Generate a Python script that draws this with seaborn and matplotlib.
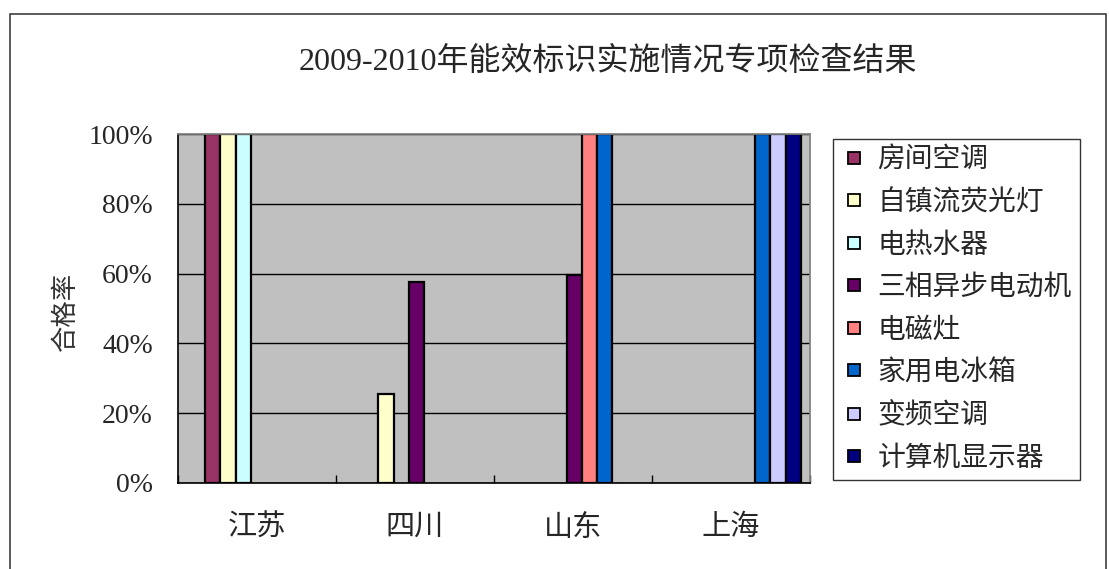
import numpy as np
import pandas as pd
import matplotlib
matplotlib.use("Agg")
import matplotlib.pyplot as plt
import seaborn as sns
from matplotlib.lines import Line2D
from matplotlib.patches import Rectangle
from matplotlib.ticker import FixedLocator

# data (pass rate, %)
regions = ["江苏", "四川", "山东", "上海"]
products = ["房间空调", "自镇流荧光灯", "电热水器", "三相异步电动机",
            "电磁灶", "家用电冰箱", "变频空调", "计算机显示器"]
room_ac = [100, np.nan, np.nan, np.nan]
cfl_lamp = [100, 25.5, np.nan, np.nan]
water_heater = [100, np.nan, np.nan, np.nan]
motor = [np.nan, 57.6, 59.6, np.nan]
induction_cooker = [np.nan, np.nan, 100, np.nan]
fridge = [np.nan, np.nan, 100, 100]
inverter_ac = [np.nan, np.nan, np.nan, 100]
monitor = [np.nan, np.nan, np.nan, 100]
colors = ["#993366", "#FFFFCC", "#CCFFFF", "#660066",
          "#FF8080", "#0066CC", "#CCCCFF", "#000080"]

series = [room_ac, cfl_lamp, water_heater, motor,
          induction_cooker, fridge, inverter_ac, monitor]
df = pd.DataFrame({
    "region": regions * len(products),
    "product": np.repeat(products, len(regions)),
    "rate": np.concatenate(series),
})

sns.set_theme(style="white")
plt.rcParams["font.family"] = ["Liberation Serif", "Noto Sans CJK SC"]

fig = plt.figure(figsize=(11.09, 5.69), dpi=100)
ax = fig.add_axes([178 / 1109, 1 - 483 / 569, 632 / 1109, 349 / 569])
ax.set_facecolor("#C0C0C0")

sns.barplot(data=df, x="region", y="rate", hue="product", order=regions,
            hue_order=products, palette=colors, width=0.77, dodge=True,
            edgecolor="black", linewidth=1.6, saturation=1, legend=False, ax=ax)

# the bar group sits a bit right of the category centre in the original
shift = 0.057
ax.set_xlim(-0.5 - shift, len(regions) - 0.5 - shift)
ax.set_ylim(0, 100)
ax.set_xticks(np.arange(len(regions)) - shift)
ax.set_xticklabels(regions, fontsize=21)
ax.xaxis.set_minor_locator(FixedLocator(np.arange(len(regions) + 1) - 0.5 - shift))
ax.tick_params(axis="x", which="major", length=0, pad=23)
ax.tick_params(axis="x", which="minor", direction="in", length=6, width=1, color="black", bottom=True)
ax.set_yticks(np.arange(0, 101, 20))
ax.set_yticklabels([f"{v}%" for v in range(0, 101, 20)], fontsize=20)
ax.tick_params(axis="y", length=0, pad=18)
ax.yaxis.grid(True, color="black", linewidth=1)
ax.set_axisbelow(True)
ax.set_xlabel("")
ax.set_ylabel("合格率", fontsize=19, color="#333333")
ax.yaxis.set_label_coords(-0.158, 0.493)
for side in ["top", "right"]:
    ax.spines[side].set_color("#808080")
for side in ["left", "bottom"]:
    ax.spines[side].set_color("black")
    ax.spines[side].set_linewidth(1.2)

fig.text(0.548, 0.891, "2009-2010年能效标识实施情况专项检查结果",
         ha="center", va="center", fontsize=23)

handles = [Line2D([0], [0], marker="s", linestyle="none", markersize=9,
                  markerfacecolor=c, markeredgecolor="black", markeredgewidth=1.3)
           for c in colors]
leg = fig.legend(handles=handles, labels=products, loc="upper left",
                 bbox_to_anchor=(833 / 1109, 1 - 139 / 569), fontsize=20,
                 frameon=True, fancybox=False, borderaxespad=0, handlelength=0.9,
                 handletextpad=0.4, labelspacing=0.6, borderpad=0.3)
leg.get_frame().set_edgecolor("black")
leg.get_frame().set_linewidth(1)

fig.patches.append(Rectangle((10 / 1109, -0.02), 1096 / 1109, 1.02 - 14 / 569,
                             transform=fig.transFigure, fill=False,
                             edgecolor="#404040", linewidth=1.2))

fig.savefig("out.png", dpi=100)
